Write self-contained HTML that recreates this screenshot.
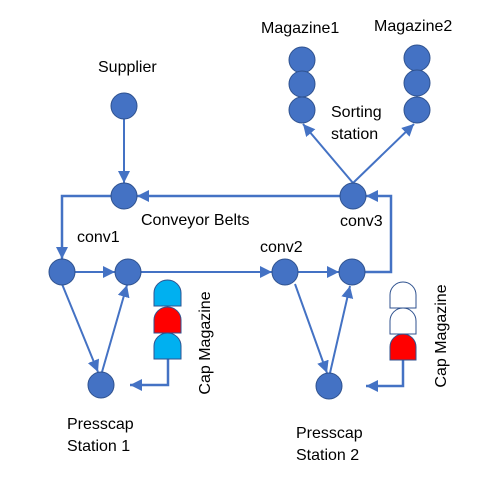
<!DOCTYPE html>
<html><head><meta charset="utf-8"><style>
html,body{margin:0;padding:0;background:#fff;}
svg{display:block;}
text{font-family:"Liberation Sans",sans-serif;font-size:16px;fill:#000;}
</style></head><body>
<svg width="477" height="484" viewBox="0 0 477 484" xmlns="http://www.w3.org/2000/svg">
<defs>
<marker id="a" markerUnits="userSpaceOnUse" markerWidth="14" markerHeight="14" refX="12" refY="6" orient="auto">
<path d="M0,0 L12,6 L0,12 Z" fill="#4472C4"/>
</marker>
</defs>
<g stroke="#4472C4" stroke-width="2" fill="none" marker-end="url(#a)">
<line x1="124" y1="119" x2="124" y2="183"/>
<line x1="340" y1="196" x2="137" y2="196" stroke-width="2.5"/>
<polyline points="111,196 62,196 62,259" stroke-width="2.5"/>
<line x1="75" y1="272" x2="115" y2="272"/>
<line x1="141" y1="272" x2="272" y2="272"/>
<line x1="298" y1="272" x2="339" y2="272"/>
<polyline points="365,272 391,272 391,196 366,196" stroke-width="2.5"/>
<line x1="353" y1="183" x2="303" y2="124"/>
<line x1="353" y1="183" x2="414" y2="124"/>
<line x1="62" y1="284" x2="98" y2="372"/>
<line x1="102" y1="372" x2="127" y2="285"/>
<line x1="295" y1="284" x2="327" y2="373"/>
<line x1="330" y1="373" x2="350" y2="286"/>
<polyline points="168,359 168,385 130,385" stroke-width="2.5"/>
<polyline points="403,360 403,386 366,386" stroke-width="2.5"/>
</g>
<g fill="#4472C4" stroke="#2F528F" stroke-width="1">
<circle cx="124" cy="106" r="13"/>
<circle cx="124" cy="196" r="13"/>
<circle cx="353" cy="196" r="13"/>
<circle cx="62" cy="272" r="13"/>
<circle cx="128" cy="272" r="13"/>
<circle cx="285" cy="272" r="13"/>
<circle cx="352" cy="272" r="13"/>
<circle cx="101" cy="385" r="13"/>
<circle cx="329" cy="386" r="13"/>
<circle cx="302" cy="60" r="13"/>
<circle cx="302" cy="84" r="13"/>
<circle cx="302" cy="110" r="13"/>
<circle cx="417" cy="58" r="13"/>
<circle cx="417" cy="83" r="13"/>
<circle cx="417" cy="110" r="13"/>
</g>
<g stroke="#2F528F" stroke-width="1">
<path d="M154,306 L154,293 A13.5,13 0 0 1 181,293 L181,306 Z" fill="#00B0F0"/>
<path d="M154,333 L154,320 A13.5,13 0 0 1 181,320 L181,333 Z" fill="#FF0000"/>
<path d="M154,359 L154,346 A13.5,13 0 0 1 181,346 L181,359 Z" fill="#00B0F0"/>
<path d="M390,308 L390,295 A13,13 0 0 1 416,295 L416,308 Z" fill="#fff"/>
<path d="M390,334 L390,321 A13,13 0 0 1 416,321 L416,334 Z" fill="#fff"/>
<path d="M390,360 L390,347 A13,13 0 0 1 416,347 L416,360 Z" fill="#FF0000"/>
</g>
<text x="98" y="72">Supplier</text>
<text x="261" y="33">Magazine1</text>
<text x="374" y="31">Magazine2</text>
<text x="331" y="117">Sorting</text>
<text x="331" y="139">station</text>
<text x="141" y="225">Conveyor Belts</text>
<text x="77" y="242">conv1</text>
<text x="260" y="252">conv2</text>
<text x="340" y="226">conv3</text>
<text x="67" y="429">Presscap</text>
<text x="67" y="451">Station 1</text>
<text x="296" y="438">Presscap</text>
<text x="296" y="460">Station 2</text>
<text x="0" y="0" transform="translate(210,343) rotate(-90)" text-anchor="middle">Cap Magazine</text>
<text x="0" y="0" transform="translate(446,336) rotate(-90)" text-anchor="middle">Cap Magazine</text>
</svg>
</body></html>
